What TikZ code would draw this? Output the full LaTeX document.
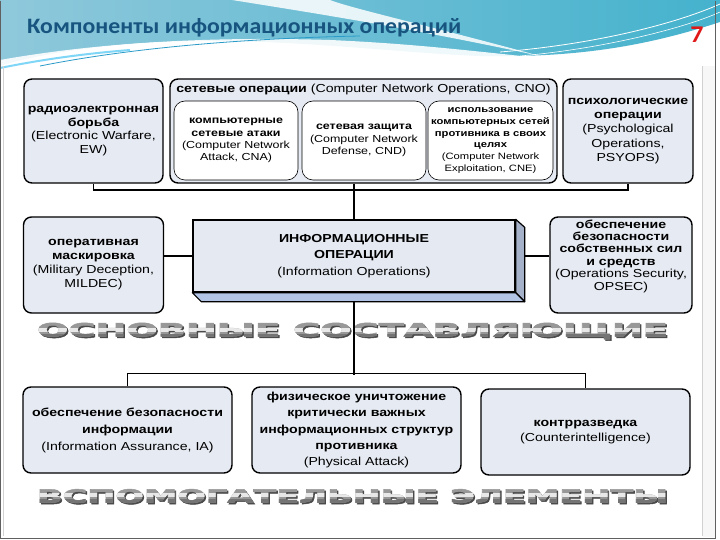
\documentclass[tikz,border=0pt]{standalone}
\usepackage{fontspec}
\setmainfont{Liberation Sans}[FakeStretch=1.22]
\newfontfamily\titlefont{Carlito}[FakeStretch=1.08]
\newfontfamily\bigfont{DejaVu Sans}[FakeBold=2.5]
\usetikzlibrary{calc}
\definecolor{boxfill}{HTML}{E6EAF2}
\definecolor{titleblue}{HTML}{17547F}
\definecolor{numred}{HTML}{E01818}
\definecolor{hdrA}{HTML}{8FC8DB}
\definecolor{hdrB}{HTML}{45B2CD}
\definecolor{ioface}{HTML}{E4E9F2}
\definecolor{ioright}{HTML}{A5B1C8}
\definecolor{iobottom}{HTML}{B2C5E6}
\definecolor{metal}{HTML}{989898}
\definecolor{metalhi}{HTML}{E8E8E8}
\definecolor{metallo}{HTML}{747474}
\definecolor{metalsh}{HTML}{4A4A4A}
\newcommand{\wordA}{\resizebox{631pt}{13.5pt}{\bigfont\bfseries ОСНОВНЫЕ СОСТАВЛЯЮЩИЕ}}
\newcommand{\wordB}{\resizebox{631pt}{13.5pt}{\bigfont\bfseries ВСПОМОГАТЕЛЬНЫЕ ЭЛЕМЕНТЫ}}
\begin{document}
\begin{tikzpicture}[x=1pt,y=-1pt,
  box/.style={draw=black, line width=1.4pt, rounded corners=8pt, fill=boxfill, align=center, inner sep=0pt},
  inbox/.style={draw=black, line width=0.6pt, rounded corners=11pt, fill=white, align=center, inner sep=0pt},
  wire/.style={line width=1.5pt, black},
  txt/.style={font=\fontsize{11.6}{13.8}\selectfont, align=center},
  smalltxt/.style={font=\fontsize{10.2}{12.2}\selectfont, align=center},
  bigword/.style={inner sep=0pt}
]
\useasboundingbox (0,0) rectangle (720,540);
\fill[white] (0,0) rectangle (720,540);
% ---------- header background ----------
\shade[left color=hdrA, right color=hdrB]
  (0,0) -- (720,0) -- (720,22) .. controls (650,45) and (580,58) .. (480,56)
  .. controls (380,52) and (260,34) .. (130,44) .. controls (70,49) and (25,58) .. (0,66) -- cycle;
\fill[white, opacity=0.85] (232,0) .. controls (320,14) and (420,30) .. (540,56)
  .. controls (430,26) and (350,8) .. (330,0) -- cycle;
\fill[white, opacity=0.9] (0,60) .. controls (90,44) and (200,36) .. (330,40)
  .. controls (420,44) and (480,52) .. (560,60) -- (560,64) .. controls (420,54) and (250,44) .. (0,70) -- cycle;
\draw[cyan!60!teal, line width=0.8pt] (40,66) .. controls (140,46) and (260,38) .. (360,36);
\draw[cyan!50, line width=2pt] (0,68) .. controls (40,60) and (80,54) .. (130,50);
\draw[white, line width=0.8pt] (500,52) .. controls (600,44) and (680,22) .. (720,4);
\draw[white, line width=0.6pt] (520,56) .. controls (610,48) and (690,26) .. (720,12);
% ---------- frame ----------
\draw[gray!35, line width=0.8pt] (3,66) -- (3,536);
\draw[gray!35, line width=0.8pt] (702,66) -- (702,536);
\fill[gray!6] (703,66) rectangle (715,537);
\draw[gray!75!black, line width=1.2pt] (0.6,0.6) -- (0.6,538.4) -- (715.4,538.4) -- (715.4,0.6);
% ---------- title ----------
\node[anchor=west, inner sep=0pt, font=\titlefont\bfseries\fontsize{22}{24}\selectfont, text=titleblue] (title) at (27,28) {Компоненты информационных операций};
\node[inner sep=0pt, font=\titlefont\bfseries\fontsize{24}{24}\selectfont, text=numred] (num) at (697,35) {7};
% ---------- top row ----------
\node[box, txt, minimum width=139pt, minimum height=104pt] (ew) at (93.5,131)
  {\textbf{радиоэлектронная}\\\textbf{борьба}\\(Electronic Warfare,\\EW)};
\node[box, minimum width=387pt, minimum height=104pt] (cno) at (363.5,131) {};
\node[txt, inner sep=0pt] (cnot) at (363.5,90) {\textbf{сетевые операции} (Computer Network Operations, CNO)};
\node[inbox, smalltxt, minimum width=124pt, minimum height=79pt] (cna) at (236,140.5)
  {\textbf{компьютерные}\\\textbf{сетевые атаки}\\(Computer Network\\Attack, CNA)};
\node[inbox, smalltxt, minimum width=124pt, minimum height=79pt] (cnd) at (364,140.5)
  {\textbf{сетевая защита}\\(Computer Network\\Defense, CND)};
\node[inbox, font=\fontsize{9.2}{11.9}\selectfont, minimum width=125pt, minimum height=79pt] (cne) at (490.5,140.5)
  {\textbf{использование}\\\textbf{компьютерных сетей}\\\textbf{противника в своих}\\\textbf{целях}\\(Computer Network\\Exploitation, CNE)};
\node[box, txt, font=\fontsize{11.6}{14.3}\selectfont, minimum width=130pt, minimum height=104pt] (psy) at (628,131)
  {\textbf{психологические}\\\textbf{операции}\\(Psychological\\Operations,\\PSYOPS)};
% ---------- middle row ----------
\node[box, txt, font=\fontsize{11.6}{14}\selectfont, minimum width=140pt, minimum height=96pt] (mil) at (93.5,265)
  {\textbf{оперативная}\\\textbf{маскировка}\\(Military Deception,\\MILDEC)};
\node[draw=black, line width=1.4pt, fill=ioface, txt, font=\fontsize{11.6}{16.5}\selectfont, minimum width=322pt, minimum height=72pt] (io) at (354,256)
  {\textbf{ИНФОРМАЦИОННЫЕ}\\\textbf{ОПЕРАЦИИ}\\(Information Operations)};
\filldraw[fill=ioright, draw=black, line width=1.2pt, line join=round]
  (io.north east) -- ++(9,8) -- ($(io.south east)+(9,9)$) -- (io.south east) -- cycle;
\filldraw[fill=iobottom, draw=black, line width=1.2pt, line join=round]
  (io.south west) -- (io.south east) -- ($(io.south east)+(9,9)$) -- ($(io.south west)+(9,9)$) -- cycle;
\coordinate (iob) at ($(io.south)+(0,9)$);
\node[box, minimum width=142pt, minimum height=96pt] (ops) at (621,265) {};
\node[txt, font=\fontsize{11.6}{12.4}\selectfont, inner sep=0pt] (opst) at (621,256)
  {\textbf{обеспечение}\\\textbf{безопасности}\\\textbf{собственных сил}\\\textbf{и средств}\\(Operations Security,\\OPSEC)};
% ---------- big words ----------
\node[bigword, text=metalsh] (w1s) at (354,332.5) {\wordA};
\node[bigword, text=metal] (w1) at (352.5,331) {\wordA};
\begin{scope}
  \clip (0,328.5) rectangle (720,331.8);
  \node[bigword, text=metalhi] (w1h) at (352.5,331) {\wordA};
\end{scope}
\begin{scope}
  \clip (0,334.5) rectangle (720,340);
  \node[bigword, text=metallo] (w1l) at (352.5,331) {\wordA};
\end{scope}
\node[bigword, text=metalsh] (w2s) at (354,497.5) {\wordB};
\node[bigword, text=metal] (w2) at (352.5,496) {\wordB};
\begin{scope}
  \clip (0,493.5) rectangle (720,496.8);
  \node[bigword, text=metalhi] (w2h) at (352.5,496) {\wordB};
\end{scope}
\begin{scope}
  \clip (0,499.5) rectangle (720,505);
  \node[bigword, text=metallo] (w2l) at (352.5,496) {\wordB};
\end{scope}
% ---------- bottom row ----------
\node[box, txt, font=\fontsize{11.6}{17}\selectfont, minimum width=209pt, minimum height=86pt] (ia) at (127.5,430)
  {\textbf{обеспечение безопасности}\\\textbf{информации}\\(Information Assurance, IA)};
\node[box, txt, font=\fontsize{11.6}{16.3}\selectfont, minimum width=209pt, minimum height=86pt] (pa) at (356.5,430)
  {\textbf{физическое уничтожение}\\\textbf{критически важных}\\\textbf{информационных структур}\\\textbf{противника}\\(Physical Attack)};
\node[box, txt, font=\fontsize{11.6}{15}\selectfont, minimum width=209pt, minimum height=86pt] (ci) at (585.5,432)
  {\textbf{контрразведка}\\(Counterintelligence)};
% ---------- connectors ----------
\draw[wire] (ew.south) -- ++(0,6.5) -| (psy.south);
\draw[wire] (io.north) -- (io.north |- cno.south);
\draw[wire] (mil.east |- io.west) -- (io.west);
\draw[wire] (io.east -| ops.west) -- ($(io.east)+(9,0)$);
\draw[wire] (iob) -- ++(0,73);
\draw[wire] (ia.north) -- ++(0,-13) -| (ci.north);
\end{tikzpicture}
\end{document}
